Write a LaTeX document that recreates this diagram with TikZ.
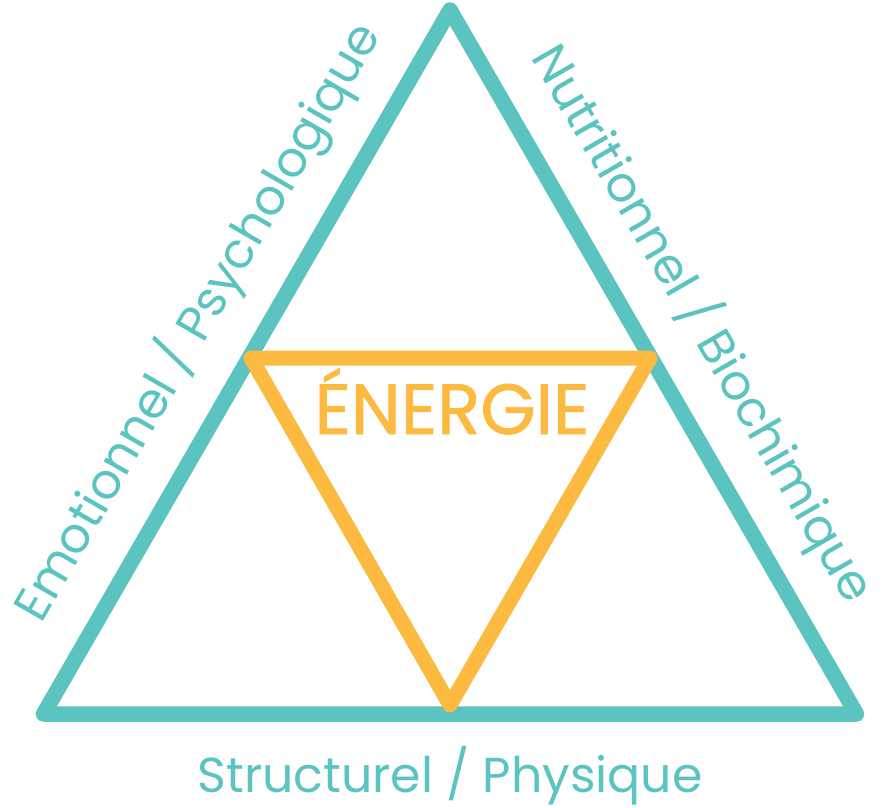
\documentclass[tikz,border=0pt]{standalone}
\usepackage{fontspec}
\setmainfont{Poppins}
\definecolor{teal1}{HTML}{5BC4C1}
\definecolor{orange1}{HTML}{FDBA41}
\begin{document}
\begin{tikzpicture}[x=1pt,y=-1pt,
  tealline/.style={draw=teal1,line width=15.5pt,line join=round,line cap=round},
  orangeline/.style={draw=orange1,line width=15pt,line join=round,line cap=round},
  sidelabel/.style={text=teal1,inner sep=0pt,anchor=base,font=\fontsize{49}{54}\selectfont},
  energy/.style={text=orange1,inner sep=0pt,anchor=base,font=\fontsize{71}{76}\selectfont\addfontfeatures{FakeBold=1.2}}]
\useasboundingbox (0,0) rectangle (890,807);
\coordinate (A) at (450,10);
\coordinate (B) at (43.5,714);
\coordinate (C) at (856.5,714);
\coordinate (P) at (251,358);
\coordinate (Q) at (650,358);
\coordinate (R) at (450,705);
\draw[tealline] (A) -- (B) -- (C) -- cycle;
\draw[orangeline] (P) -- (Q) -- (R) -- cycle;
\node[energy] (en) at (452,434) {ÉNERGIE};
\node[sidelabel] (bot) at (450,792) {Structurel / Physique};
\node[sidelabel,rotate=60] (left) at (211.7,329.9) {Emotionnel / Psychologique};
\node[sidelabel,rotate=-60] (right) at (688.8,331.7) {Nutritionnel / Biochimique};
\end{tikzpicture}
\end{document}
